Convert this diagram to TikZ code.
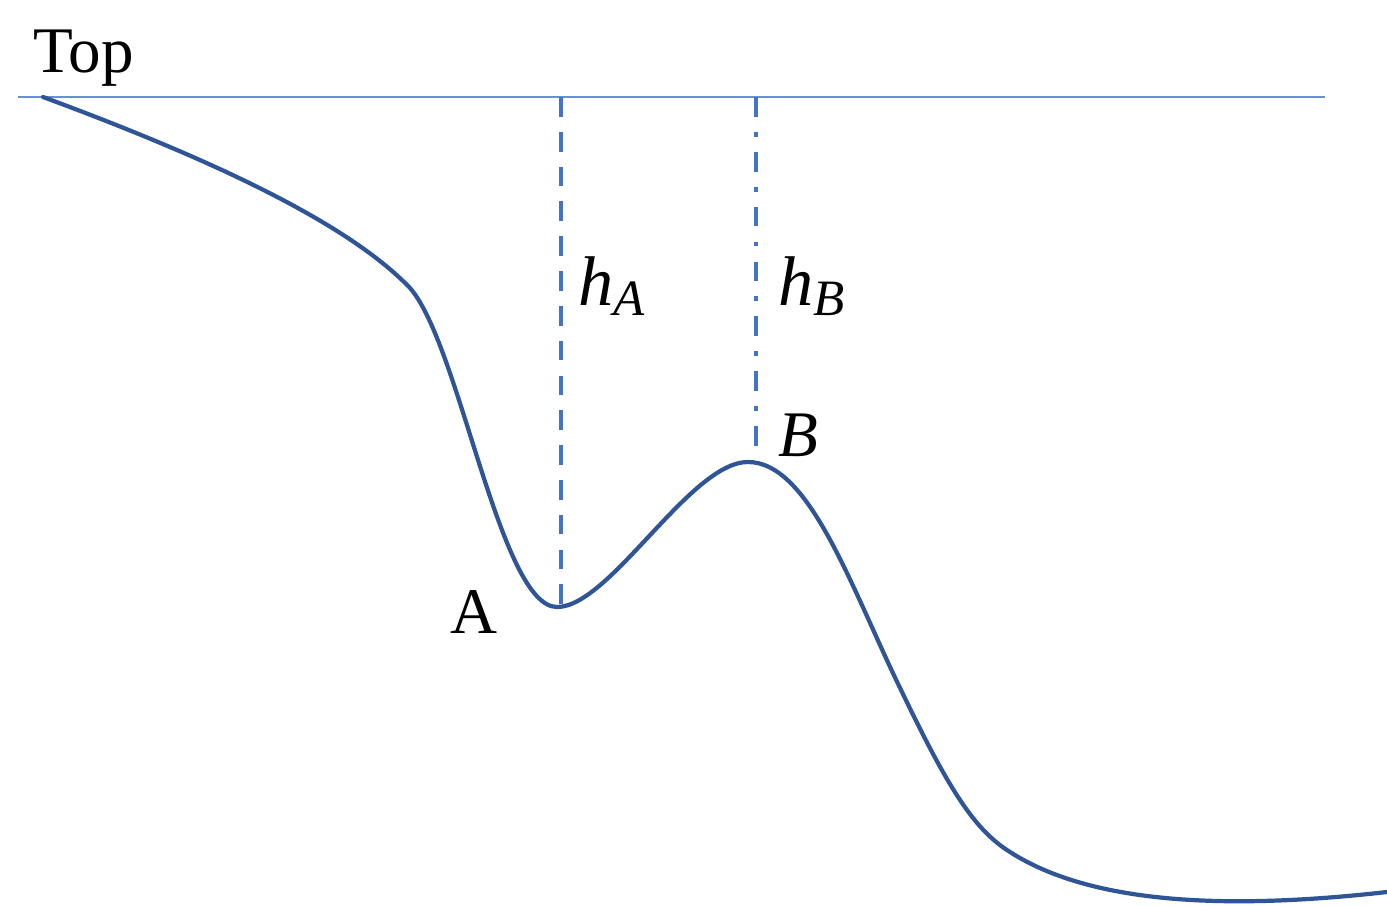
\documentclass[tikz,border=0pt]{standalone}
\usepackage{fontspec}
\setmainfont{Liberation Serif}
\definecolor{curveblue}{HTML}{2F5597}
\definecolor{lineblue}{HTML}{4472C4}
\definecolor{topblue}{HTML}{6A8FD6}
\tikzset{
  curve/.style={draw=curveblue, line width=1.2pt, line cap=round},
  topline/.style={draw=topblue, line width=0.4pt},
  hdash/.style={draw=lineblue, line width=1.1pt, dash pattern=on 5.6pt off 4.3pt},
  hdashdot/.style={draw=lineblue, line width=1.1pt, dash pattern=on 5.6pt off 4.3pt on 1.4pt off 4.3pt},
  lbl/.style={inner sep=0pt, font=\fontsize{18.5pt}{20pt}\selectfont},
}
\newcommand{\hsub}[1]{{\fontsize{20pt}{22pt}\selectfont\itshape h}\raisebox{-0.65ex}{\fontsize{14.5pt}{16pt}\selectfont\itshape #1}}
\begin{document}
\begin{tikzpicture}[x=0.01cm,y=-0.01cm]
\useasboundingbox (0,0) rectangle (1387,906);
\coordinate (tl) at (18,97);
\coordinate (tr) at (1325,97);
\coordinate (topA) at (561,97);
\coordinate (botA) at (561,607);
\coordinate (topB) at (756,97);
\coordinate (botB) at (756,450);
\draw[topline] (tl) -- (tr);
\draw[hdash] (topA) -- (botA);
\draw[hdashdot] (topB) -- (botB);
\draw[curve] (43,97) .. controls (200,155) and (345,220) .. (410,288)
  .. controls (460,345) and (500,607) .. (557,607)
  .. controls (610,607) and (690,462) .. (748,462)
  .. controls (810,462) and (852,590) .. (902,692)
  .. controls (950,792) and (975,830) .. (1010,852)
  .. controls (1085,900) and (1210,912) .. (1387,892);
\node[lbl, anchor=base west] (top) at (33,73) {Top};
\node[lbl, anchor=base west] (A) at (450,633) {A};
\node[lbl, anchor=base west] (B) at (778,456) {\itshape B};
\node[inner sep=0pt, anchor=base west] (hA) at (578,305) {\hsub{A}};
\node[inner sep=0pt, anchor=base west] (hB) at (778,305) {\hsub{B}};
\end{tikzpicture}
\end{document}
